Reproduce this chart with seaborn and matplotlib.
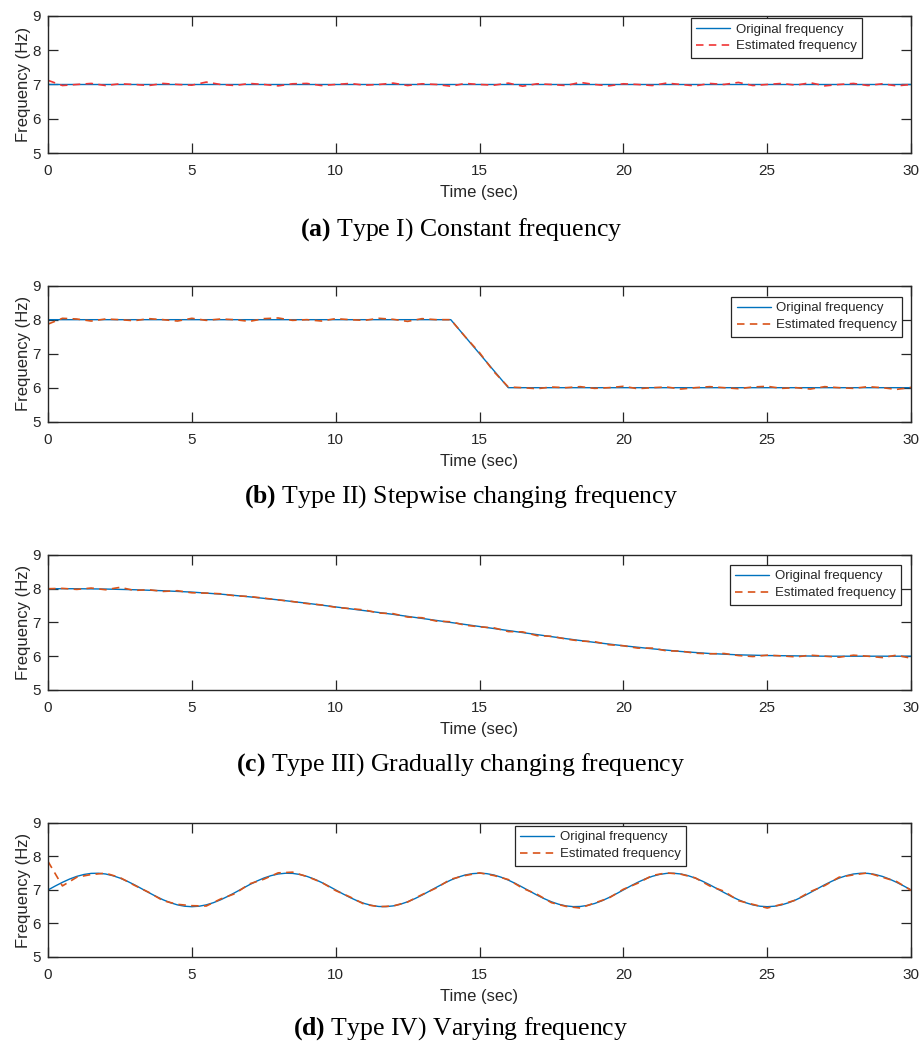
import numpy as np
import matplotlib
matplotlib.use("Agg")
import matplotlib.pyplot as plt
import seaborn as sns

# ---- data -------------------------------------------------------------
# Type I: constant frequency
orig_a_t = [0, 30]
orig_a = [7.0, 7.0]
est_a = [7.12, 6.97, 7.00, 7.03, 6.97, 7.02, 7.00, 6.97, 7.03, 7.00,
         6.98, 7.07, 7.00, 6.97, 7.03, 7.00, 6.96, 7.02, 7.03, 6.97,
         7.00, 7.03, 6.98, 7.00, 7.04, 6.97, 7.02, 7.00, 6.95, 7.03,
         7.00, 6.98, 7.04, 6.95, 7.02, 7.00, 6.97, 7.06, 7.00, 6.96,
         7.02, 7.00, 6.97, 7.04, 7.00, 6.96, 7.03, 7.00, 7.06, 6.97,
         7.00, 7.03, 6.98, 7.05, 6.96, 7.00, 7.03, 6.97, 7.02, 6.96,
         7.00]

# Type II: stepwise changing frequency
orig_b_t = [0, 14, 16, 30]
orig_b = [8.0, 8.0, 6.0, 6.0]
est_b = [7.87, 8.04, 8.02, 7.96, 8.02, 8.00, 7.97, 8.03, 8.00, 7.96,
         8.04, 7.98, 8.02, 8.00, 7.95, 8.03, 8.05, 7.98, 8.00, 7.96,
         8.03, 8.00, 7.98, 8.04, 8.01, 7.95, 8.03, 8.00, 8.00, 7.50,
         7.03, 6.47, 6.02, 6.00, 5.97, 6.02, 6.00, 6.03, 5.98, 6.00,
         6.04, 5.97, 6.00, 6.02, 5.96, 6.00, 6.03, 6.00, 5.97, 6.02,
         6.04, 5.98, 6.00, 5.96, 6.03, 6.00, 5.98, 6.03, 6.00, 5.95,
         6.01]

# Type III: gradually changing frequency (1 s steps)
orig_c = [8.00, 8.00, 7.99, 7.97, 7.94, 7.90, 7.84, 7.76, 7.67, 7.57,
          7.46, 7.35, 7.24, 7.12, 7.00, 6.88, 6.76, 6.64, 6.52, 6.41,
          6.31, 6.22, 6.14, 6.08, 6.04, 6.02, 6.01, 6.00, 6.00, 6.00,
          6.00]
est_c = [8.00, 8.01, 7.98, 8.02, 7.97, 8.04, 7.95, 7.97, 7.92, 7.94,
         7.88, 7.87, 7.85, 7.79, 7.77, 7.72, 7.67, 7.62, 7.56, 7.52,
         7.45, 7.41, 7.37, 7.28, 7.26, 7.16, 7.14, 7.04, 7.02, 6.92,
         6.87, 6.84, 6.73, 6.72, 6.61, 6.59, 6.51, 6.45, 6.43, 6.34,
         6.31, 6.24, 6.24, 6.16, 6.15, 6.09, 6.07, 6.08, 6.02, 5.99,
         6.03, 6.01, 5.98, 6.03, 6.00, 5.97, 6.03, 6.00, 5.96, 6.03,
         5.94]

# Type IV: varying frequency (0.25 s steps)
orig_d = [7.000, 7.117, 7.227, 7.325, 7.405, 7.462, 7.494, 7.498, 7.476, 7.426,
          7.354, 7.261, 7.155, 7.039, 6.922, 6.809, 6.706, 6.620, 6.554, 6.514,
          6.500, 6.514, 6.554, 6.620, 6.706, 6.809, 6.922, 7.039, 7.155, 7.261,
          7.354, 7.426, 7.476, 7.498, 7.494, 7.462, 7.405, 7.325, 7.227, 7.117,
          7.000, 6.883, 6.773, 6.675, 6.595, 6.538, 6.506, 6.502, 6.524, 6.574,
          6.646, 6.739, 6.845, 6.961, 7.078, 7.191, 7.294, 7.380, 7.446, 7.486,
          7.500, 7.486, 7.446, 7.380, 7.294, 7.191, 7.078, 6.961, 6.845, 6.739,
          6.646, 6.574, 6.524, 6.502, 6.506, 6.538, 6.595, 6.675, 6.773, 6.883,
          7.000, 7.117, 7.227, 7.325, 7.405, 7.462, 7.494, 7.498, 7.476, 7.426,
          7.354, 7.261, 7.155, 7.039, 6.922, 6.809, 6.706, 6.620, 6.554, 6.514,
          6.500, 6.514, 6.554, 6.620, 6.706, 6.809, 6.922, 7.039, 7.155, 7.261,
          7.354, 7.426, 7.476, 7.498, 7.494, 7.462, 7.405, 7.325, 7.227, 7.117,
          7.000]
est_d = [7.85, 7.12, 7.38, 7.46, 7.50, 7.37, 7.14, 6.93, 6.68, 6.57,
         6.53, 6.52, 6.73, 6.89, 7.18, 7.32, 7.51, 7.53, 7.40, 7.23,
         6.98, 6.79, 6.57, 6.50, 6.52, 6.64, 6.86, 7.06, 7.32, 7.43,
         7.51, 7.43, 7.31, 7.05, 6.87, 6.62, 6.51, 6.46, 6.61, 6.76,
         7.02, 7.20, 7.43, 7.51, 7.47, 7.36, 7.12, 6.96, 6.68, 6.57,
         6.46, 6.57, 6.70, 6.95, 7.13, 7.38, 7.45, 7.51, 7.38, 7.25,
         6.99]

captions = [r"$\mathbf{(a)}$ Type I) Constant frequency",
            r"$\mathbf{(b)}$ Type II) Stepwise changing frequency",
            r"$\mathbf{(c)}$ Type III) Gradually changing frequency",
            r"$\mathbf{(d)}$ Type IV) Varying frequency"]
x_ticks = [0, 5, 10, 15, 20, 25, 30]
y_ticks = [5, 6, 7, 8, 9]

# ---- style ------------------------------------------------------------
sns.set_theme(style="ticks")
plt.rcParams["font.family"] = ["Liberation Sans", "DejaVu Sans"]
plt.rcParams["mathtext.fontset"] = "custom"
plt.rcParams["mathtext.rm"] = "Liberation Serif"
plt.rcParams["mathtext.bf"] = "Liberation Serif:bold"

BLUE = "#0072BD"
ORANGE = "#D95319"
RED = "#F03535"
INK = "#262626"

panels = [
    dict(ot=orig_a_t, o=orig_a, e=est_a, ec=RED,
         rect=(0.0521, 0.8533, 0.936, 0.1314),
         leg=dict(loc="upper right", bbox_to_anchor=(0.943, 0.985)), cap_y=0.7795),
    dict(ot=orig_b_t, o=orig_b, e=est_b, ec=ORANGE,
         rect=(0.0521, 0.5957, 0.936, 0.1304),
         leg=dict(loc="upper right", bbox_to_anchor=(0.990, 0.917)), cap_y=0.5235),
    dict(ot=list(np.linspace(0, 30, len(orig_c))), o=orig_c, e=est_c, ec=ORANGE,
         rect=(0.0521, 0.3385, 0.936, 0.1294),
         leg=dict(loc="upper right", bbox_to_anchor=(0.988, 0.926)), cap_y=0.2665),
    dict(ot=list(np.linspace(0, 30, len(orig_d))), o=orig_d, e=est_d, ec=ORANGE,
         rect=(0.0521, 0.0825, 0.936, 0.1285),
         leg=dict(loc="upper left", bbox_to_anchor=(0.541, 0.978)), cap_y=0.0135),
]

fig = plt.figure(figsize=(9.22, 10.43), dpi=100)

for p, cap in zip(panels, captions):
    ax = fig.add_axes(p["rect"])
    t_est = np.linspace(0, 30, len(p["e"]))
    sns.lineplot(x=p["ot"], y=p["o"], ax=ax, color=BLUE, linewidth=1.0,
                 label="Original frequency", sort=False)
    sns.lineplot(x=t_est, y=p["e"], ax=ax, color=p["ec"], linewidth=1.2,
                 linestyle=(0, (4.5, 3.2)), label="Estimated frequency", sort=False)

    ax.set_xlim(0, 30)
    ax.set_ylim(5, 9)
    ax.set_xticks(x_ticks)
    ax.set_yticks(y_ticks)
    ax.set_xlabel("Time (sec)", fontsize=12, color=INK, labelpad=5)
    ax.set_ylabel("Frequency (Hz)", fontsize=12, color=INK, labelpad=1)
    ax.tick_params(direction="in", length=7, width=0.9, top=True, right=True,
                   labelsize=11, colors=INK)
    ax.tick_params(axis="x", pad=8)
    ax.tick_params(axis="y", pad=5)
    for s in ax.spines.values():
        s.set_visible(True)
        s.set_color(INK)
        s.set_linewidth(1.0)
    ax.grid(False)

    leg = ax.legend(frameon=True, fancybox=False, edgecolor=INK, framealpha=1,
                    fontsize=9.5, handlelength=2.6, borderpad=0.4,
                    labelspacing=0.35, handletextpad=0.4, borderaxespad=0,
                    **p["leg"])
    leg.get_frame().set_linewidth(0.9)

    fig.text(0.5, p["cap_y"], cap, ha="center", va="center",
             fontsize=18.5, family="Liberation Serif", color="black")

fig.savefig("out.png", dpi=100)
